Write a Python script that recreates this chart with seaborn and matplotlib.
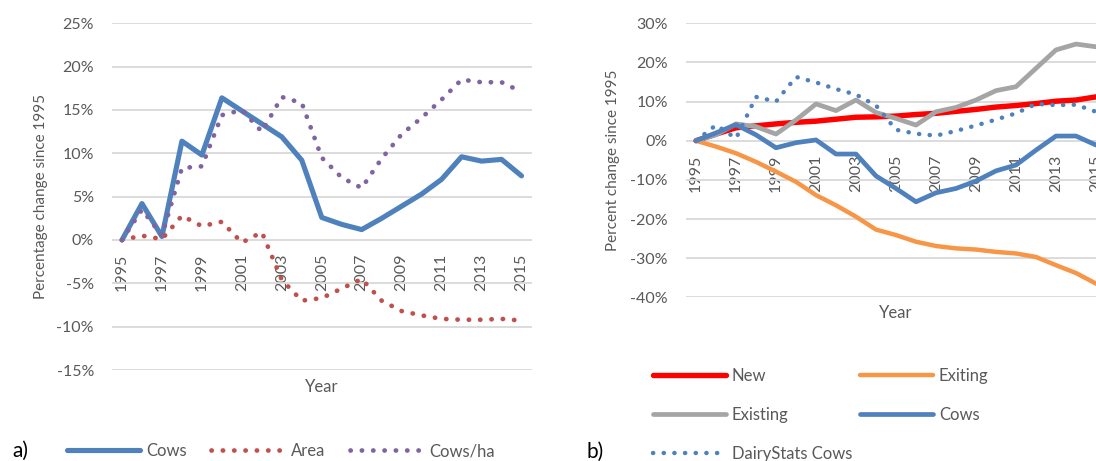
import matplotlib
matplotlib.use("Agg")
import matplotlib.pyplot as plt
import seaborn as sns
import pandas as pd

# ---- data -------------------------------------------------------------
years = list(range(1995, 2016))
year_ticks = list(range(1995, 2016, 2))

# panel a) : percentage change since 1995
cows_a = [0.0, 4.2, 0.4, 11.4, 9.8, 16.4, 14.9, 13.4, 11.9, 9.2, 2.6,
          1.8, 1.2, 2.5, 3.9, 5.3, 7.0, 9.6, 9.1, 9.3, 7.4]
area_a = [0.0, 0.5, 0.1, 2.8, 1.6, 2.1, -0.3, 0.9, -4.6, -7.0, -6.7,
          -5.6, -4.5, -7.0, -8.2, -8.7, -9.1, -9.2, -9.2, -9.1, -9.3]
cows_per_ha = [0.0, 3.5, 0.5, 8.3, 8.5, 14.4, 15.0, 12.5, 16.5, 15.8, 9.5,
               7.2, 6.0, 9.4, 12.2, 14.1, 16.2, 18.5, 18.2, 18.2, 17.1]

# panel b) : percent change since 1995
new_b = [0.0, 1.7, 3.3, 3.8, 4.3, 4.7, 5.0, 5.5, 6.0, 6.1, 6.3,
         6.7, 7.0, 7.5, 8.0, 8.6, 9.0, 9.5, 10.1, 10.4, 11.2]
exiting_b = [0.0, -1.5, -3.2, -5.4, -7.9, -10.5, -13.9, -16.5, -19.4, -22.7, -24.1,
             -25.8, -26.9, -27.5, -27.8, -28.4, -28.8, -29.7, -31.8, -33.8, -36.5]
existing_b = [0.0, 1.5, 4.3, 3.6, 1.7, 5.3, 9.4, 7.7, 10.4, 7.2, 5.7,
              4.0, 7.4, 8.5, 10.4, 12.8, 13.8, 18.5, 23.2, 24.7, 24.0]
cows_b = [0.0, 2.0, 4.1, 1.5, -1.8, -0.5, 0.2, -3.4, -3.4, -9.0, -12.2,
          -15.6, -13.3, -12.2, -10.3, -7.7, -6.2, -2.4, 1.2, 1.2, -1.1]
dairystats_b = [0.0, 4.0, 0.6, 11.2, 10.0, 16.3, 14.9, 13.2, 11.8, 9.0, 2.8,
                1.8, 1.3, 2.5, 3.9, 5.4, 7.0, 9.4, 9.1, 9.2, 7.4]

# ---- style ------------------------------------------------------------
sns.set_theme(style="white")
plt.rcParams["font.family"] = ["Lato", "DejaVu Sans"]
TXT = "#595959"
GRID = "#D9D9D9"
FS_TICK = 11.5
FS_LAB = 11
FS_LEG = 12

fig = plt.figure(figsize=(10.96, 4.61), dpi=100)
ax_a = fig.add_axes([112 / 1096, 1 - 370 / 461, 419.5 / 1096, 346.7 / 461])
ax_b = fig.add_axes([686 / 1096, 1 - 297.3 / 461, 420 / 1096, 274 / 461])

DOT = (0, (0.05, 2.35))


def draw(ax, values, label, color, lw, dotted=False):
    df = pd.DataFrame({"year": years, "pct": values})
    kw = dict(solid_capstyle="round", solid_joinstyle="round")
    if dotted:
        kw = dict(linestyle=DOT, dash_capstyle="round")
    sns.lineplot(data=df, x="year", y="pct", ax=ax, color=color, linewidth=lw,
                 label=label, errorbar=None, **kw)


def style(ax, ylo, yhi, step, ylabel):
    ax.set_xlim(1994.5, 2015.5)
    ax.set_ylim(ylo, yhi)
    ax.set_yticks(range(ylo, yhi + 1, step))
    ax.set_yticklabels([f"{v}%" for v in range(ylo, yhi + 1, step)])
    ax.set_xticks(year_ticks)
    ax.set_xticklabels([str(y) for y in year_ticks])
    for s in ("top", "right", "left"):
        ax.spines[s].set_visible(False)
    ax.spines["bottom"].set_position(("data", 0))
    ax.spines["bottom"].set_visible(False)
    ax.set_axisbelow(True)
    ax.grid(axis="y", color=GRID, linewidth=1.3)
    ax.grid(axis="x", visible=False)
    ax.tick_params(axis="both", length=0, labelsize=FS_TICK, labelcolor=TXT)
    ax.tick_params(axis="y", pad=13)
    ax.tick_params(axis="x", pad=10, labelrotation=90)
    ax.set_ylabel(ylabel, fontsize=FS_LAB, color=TXT)
    ax.set_xlabel("")
    if ax.get_legend() is not None:
        ax.get_legend().remove()


# panel a
draw(ax_a, cows_a, "Cows", "#4F81BD", 3.7)
draw(ax_a, area_a, "Area", "#C0504D", 3.4, dotted=True)
draw(ax_a, cows_per_ha, "Cows/ha", "#8064A2", 3.4, dotted=True)
style(ax_a, -15, 25, 5, "Percentage change since 1995")
ax_a.yaxis.set_label_coords(-0.153, 0.5)

# panel b
draw(ax_b, new_b, "New", "#FF0000", 3.9)
draw(ax_b, exiting_b, "Exiting", "#F79646", 3.2)
draw(ax_b, existing_b, "Existing", "#A5A5A5", 3.4)
draw(ax_b, cows_b, "Cows", "#4F81BD", 3.4)
draw(ax_b, dairystats_b, "DairyStats Cows", "#4F81BD", 3.2, dotted=True)
style(ax_b, -40, 30, 10, "Percent change since 1995")
ax_b.yaxis.set_label_coords(-0.158, 0.5)

# x axis titles
fig.text((112 + 531.5) / 2 / 1096, 1 - 387 / 461, "Year", fontsize=FS_LEG, color=TXT,
         ha="center", va="center")
fig.text(896 / 1096, 1 - 313 / 461, "Year", fontsize=FS_LEG, color=TXT,
         ha="center", va="center")

# legends
ha_, la_ = ax_a.get_legend_handles_labels()
fig.legend(ha_, la_, loc="center left", bbox_to_anchor=(66.7 / 1096, 1 - 451 / 461),
           ncol=3, frameon=False, fontsize=FS_LEG, labelcolor=TXT, handlelength=4.4,
           handletextpad=0.35, columnspacing=1.5, borderpad=0, borderaxespad=0)

hb, lb = ax_b.get_legend_handles_labels()
order = [0, 2, 4, 1, 3]
fig.legend([hb[i] for i in order], [lb[i] for i in order], loc="center left",
           bbox_to_anchor=(652.7 / 1096, 1 - 415.3 / 461), ncol=2, frameon=False,
           fontsize=FS_LEG, labelcolor=TXT, handlelength=4.4, handletextpad=0.35,
           columnspacing=0.45, labelspacing=1.38, borderpad=0, borderaxespad=0)

fig.text(12 / 1096, 1 - 451 / 461, "a)", fontsize=15, color="black", ha="left", va="center")
fig.text(587 / 1096, 1 - 452 / 461, "b)", fontsize=15, color="black", ha="left", va="center")

fig.savefig("out.png", dpi=100)
